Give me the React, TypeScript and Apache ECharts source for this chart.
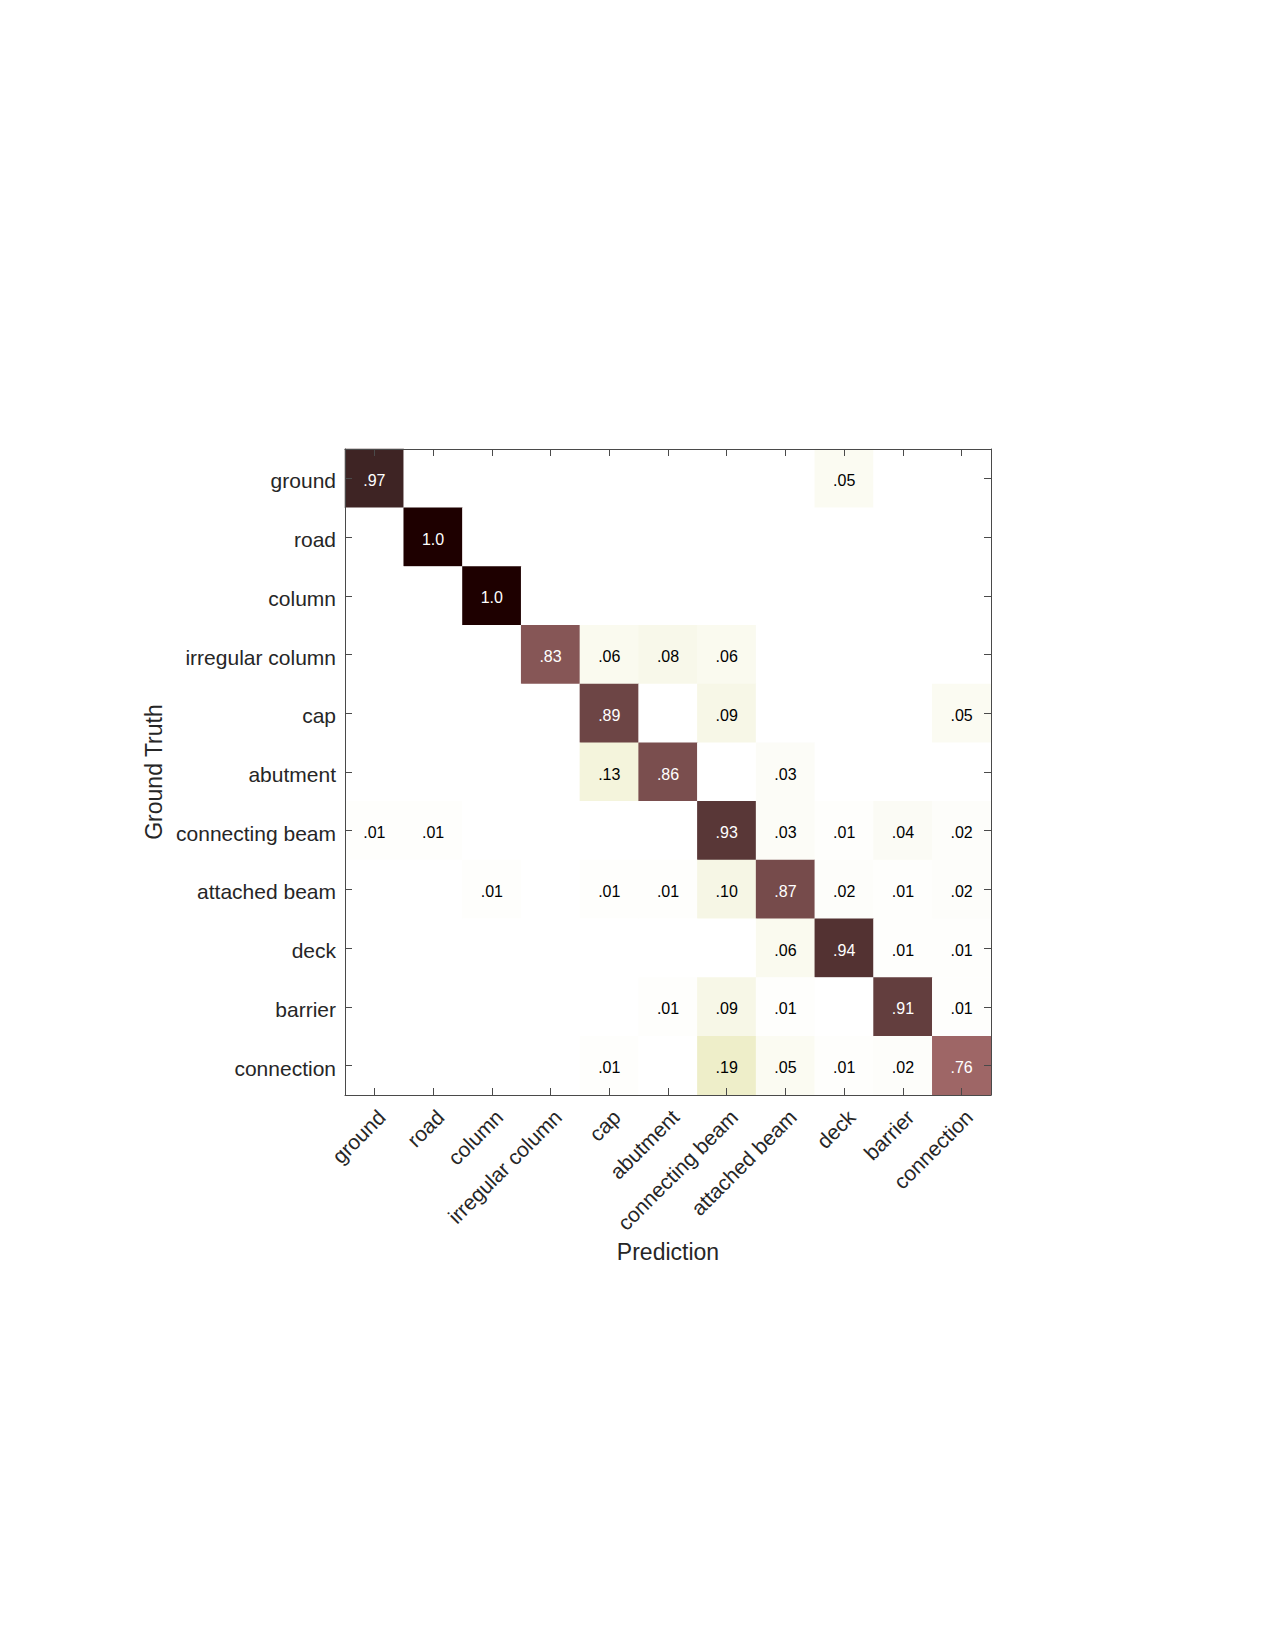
import React, { useEffect, useRef } from "react";
import * as echarts from "echarts";

const categories = [
  "ground",
  "road",
  "column",
  "irregular column",
  "cap",
  "abutment",
  "connecting beam",
  "attached beam",
  "deck",
  "barrier",
  "connection",
];

// rows = ground truth, columns = prediction (0 = empty cell)
const rowGround = [0.97, 0, 0, 0, 0, 0, 0, 0, 0.05, 0, 0];
const rowRoad = [0, 1.0, 0, 0, 0, 0, 0, 0, 0, 0, 0];
const rowColumn = [0, 0, 1.0, 0, 0, 0, 0, 0, 0, 0, 0];
const rowIrregular = [0, 0, 0, 0.83, 0.06, 0.08, 0.06, 0, 0, 0, 0];
const rowCap = [0, 0, 0, 0, 0.89, 0, 0.09, 0, 0, 0, 0.05];
const rowAbutment = [0, 0, 0, 0, 0.13, 0.86, 0, 0.03, 0, 0, 0];
const rowConnecting = [0.01, 0.01, 0, 0, 0, 0, 0.93, 0.03, 0.01, 0.04, 0.02];
const rowAttached = [0, 0, 0.01, 0, 0.01, 0.01, 0.1, 0.87, 0.02, 0.01, 0.02];
const rowDeck = [0, 0, 0, 0, 0, 0, 0, 0.06, 0.94, 0.01, 0.01];
const rowBarrier = [0, 0, 0, 0, 0, 0.01, 0.09, 0.01, 0, 0.91, 0.01];
const rowConnection = [0, 0, 0, 0, 0.01, 0, 0.19, 0.05, 0.01, 0.02, 0.76];

const matrix = [
  rowGround,
  rowRoad,
  rowColumn,
  rowIrregular,
  rowCap,
  rowAbutment,
  rowConnecting,
  rowAttached,
  rowDeck,
  rowBarrier,
  rowConnection,
];

// MATLAB "pink" colormap (64 entries), reversed so that 1 is darkest
function pinkColormap(m: number): string[] {
  const n = Math.floor((3 / 8) * m);
  const out: string[] = [];
  for (let i = 1; i <= m; i++) {
    const gray = (i - 1) / (m - 1);
    const r = i <= n ? i / n : 1;
    const g = i <= n ? 0 : i <= 2 * n ? (i - n) / n : 1;
    const b = i <= 2 * n ? 0 : (i - 2 * n) / (m - 2 * n);
    const pr = Math.sqrt((2 * gray + r) / 3);
    const pg = Math.sqrt((2 * gray + g) / 3);
    const pb = Math.sqrt((2 * gray + b) / 3);
    const hex = (v: number) =>
      Math.round(Math.min(1, v) * 255)
        .toString(16)
        .padStart(2, "0");
    out.push("#" + hex(pr) + hex(pg) + hex(pb));
  }
  return out.reverse();
}

const FONT = "'Liberation Sans', Arial, Helvetica, sans-serif";
const TXT = "#262626";

export default function App() {
  const ref = useRef<HTMLDivElement>(null);

  useEffect(() => {
    if (!ref.current) return;
    const chart = echarts.init(ref.current, undefined, { renderer: "svg" });

    const data: any[] = [];
    matrix.forEach((row, r) => {
      row.forEach((v, c) => {
        data.push({
          value: [c, r, v],
          label: {
            show: v > 0,
            color: v >= 0.5 ? "#ffffff" : "#000000",
          },
        });
      });
    });

    const axisLine = { show: true, lineStyle: { color: "#4a4a4a", width: 1 } };
    const tick = {
      show: true,
      inside: true,
      length: 7,
      interval: 0,
      alignWithLabel: true,
      lineStyle: { color: "#4a4a4a", width: 1 },
    };

    chart.setOption({
      animation: false,
      backgroundColor: "#ffffff",
      textStyle: { fontFamily: FONT },
      grid: { left: 345, top: 449, width: 646, height: 646, containLabel: false },
      xAxis: [
        {
          type: "category",
          data: categories,
          position: "bottom",
          axisLine,
          axisTick: tick,
          splitLine: { show: false },
          axisLabel: {
            rotate: 45,
            interval: 0,
            margin: 11,
            verticalAlign: "top",
            fontSize: 21,
            color: TXT,
            fontFamily: FONT,
          },
          name: "Prediction",
          nameLocation: "middle",
          nameGap: 145,
          nameTextStyle: { fontSize: 23, color: TXT, fontFamily: FONT },
          z: 5,
        },
        {
          type: "category",
          data: categories,
          position: "top",
          axisLine,
          axisTick: tick,
          axisLabel: { show: false, interval: 0 },
          splitLine: { show: false },
          z: 5,
        },
      ],
      yAxis: [
        {
          type: "category",
          data: categories,
          inverse: true,
          position: "left",
          axisLine,
          axisTick: tick,
          splitLine: { show: false },
          axisLabel: {
            interval: 0,
            margin: 9,
            fontSize: 21,
            color: TXT,
            fontFamily: FONT,
            formatter: (v: string) => "{t|" + v + "}",
            rich: {
              t: {
                fontSize: 21,
                color: TXT,
                fontFamily: FONT,
                padding: [5, 0, 0, 0],
              },
            },
          },
          name: "Ground Truth",
          nameLocation: "middle",
          nameGap: 164,
          nameRotate: 90,
          nameTextStyle: { fontSize: 23, color: TXT, fontFamily: FONT },
          z: 5,
        },
        {
          type: "category",
          data: categories,
          inverse: true,
          position: "right",
          axisLine,
          axisTick: tick,
          axisLabel: { show: false, interval: 0 },
          splitLine: { show: false },
          z: 5,
        },
      ],
      visualMap: {
        show: false,
        min: 0,
        max: 1,
        dimension: 2,
        inRange: { color: pinkColormap(64) },
      },
      series: [
        {
          type: "heatmap",
          data,
          xAxisIndex: 0,
          yAxisIndex: 0,
          label: {
            show: true,
            fontSize: 16,
            fontFamily: FONT,
            offset: [0, 2],
            formatter: (p: any) => {
              const v = p.value[2];
              if (v >= 1) return "1.0";
              return v.toFixed(2).replace(/^0/, "");
            },
          },
          itemStyle: { borderWidth: 0 },
          emphasis: { disabled: true },
        },
      ],
    });

    return () => chart.dispose();
  }, []);

  return (
    <div
      ref={ref}
      style={{ position: "absolute", left: 0, top: 0, width: 1275, height: 1650 }}
    />
  );
}
